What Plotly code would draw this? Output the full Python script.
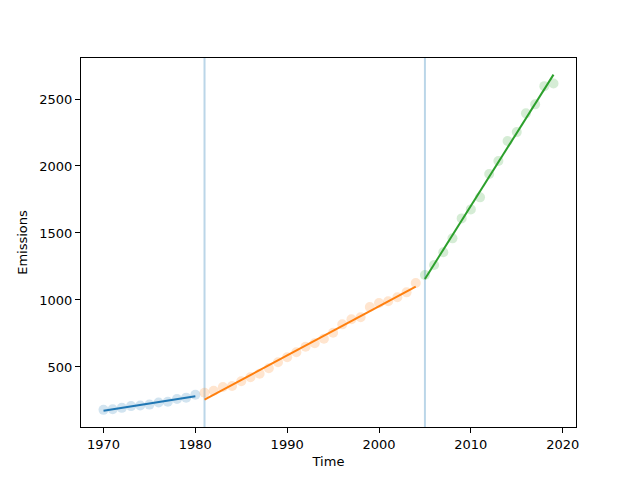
import numpy as np
import plotly.graph_objects as go

years = list(range(1970, 2020))
emissions = [
    180, 184, 195, 208, 213, 219, 235, 240, 261, 271, 293,
    308, 323, 351, 358, 393, 423, 450, 490, 535, 572, 610, 651, 677, 711,
    756, 818, 856, 871, 948, 977, 990, 1020, 1057, 1127,
    1186, 1261, 1356, 1460, 1609, 1676, 1766, 1940, 2037, 2186, 2253, 2393,
    2460, 2596, 2616,
]
breakpoints = [1981, 2005]
seg_colors = ["#1f77b4", "#ff7f0e", "#2ca02c"]
seg_fill = ["rgba(31,119,180,0.2)", "rgba(255,127,14,0.2)", "rgba(44,160,44,0.2)"]

x = np.array(years)
y = np.array(emissions)
edges = [x.min()] + breakpoints + [x.max() + 1]

fig = go.Figure()
for i in range(3):
    m = (x >= edges[i]) & (x < edges[i + 1])
    xs, ys = x[m], y[m]
    fig.add_trace(go.Scatter(
        x=xs, y=ys, mode="markers",
        marker=dict(size=10, color=seg_fill[i], line=dict(width=0)),
        showlegend=False, hoverinfo="skip"))
for i in range(3):
    m = (x >= edges[i]) & (x < edges[i + 1])
    xs, ys = x[m], y[m]
    b, a = np.polyfit(xs, ys, 1)
    fig.add_trace(go.Scatter(
        x=[xs[0], xs[-1]], y=[a + b * xs[0], a + b * xs[-1]], mode="lines",
        line=dict(color=seg_colors[i], width=2), showlegend=False))

for bp in breakpoints:
    fig.add_shape(type="line", xref="x", yref="paper", x0=bp, x1=bp, y0=0, y1=1,
                  line=dict(color="rgba(31,119,180,0.3)", width=2), layer="below")

axis_common = dict(showline=True, linecolor="black", linewidth=1, mirror=True,
                   ticks="outside", ticklen=5, tickwidth=1, tickcolor="black",
                   showgrid=False, zeroline=False,
                   tickfont=dict(family="DejaVu Sans", size=13, color="black"))

fig.update_layout(
    width=640, height=480,
    margin=dict(l=73, r=72, t=50, b=61),
    paper_bgcolor="white", plot_bgcolor="white",
    font=dict(family="DejaVu Sans", size=13, color="black"),
    xaxis=dict(range=[1967.55, 2021.45], tickvals=[1970, 1980, 1990, 2000, 2010, 2020],
               title=dict(text="Time", font=dict(size=13), standoff=6), **axis_common),
    yaxis=dict(range=[52, 2806], tickvals=[500, 1000, 1500, 2000, 2500],
               title=dict(text="Emissions", font=dict(size=13), standoff=8), **axis_common),
)

fig.write_html("out.html")
